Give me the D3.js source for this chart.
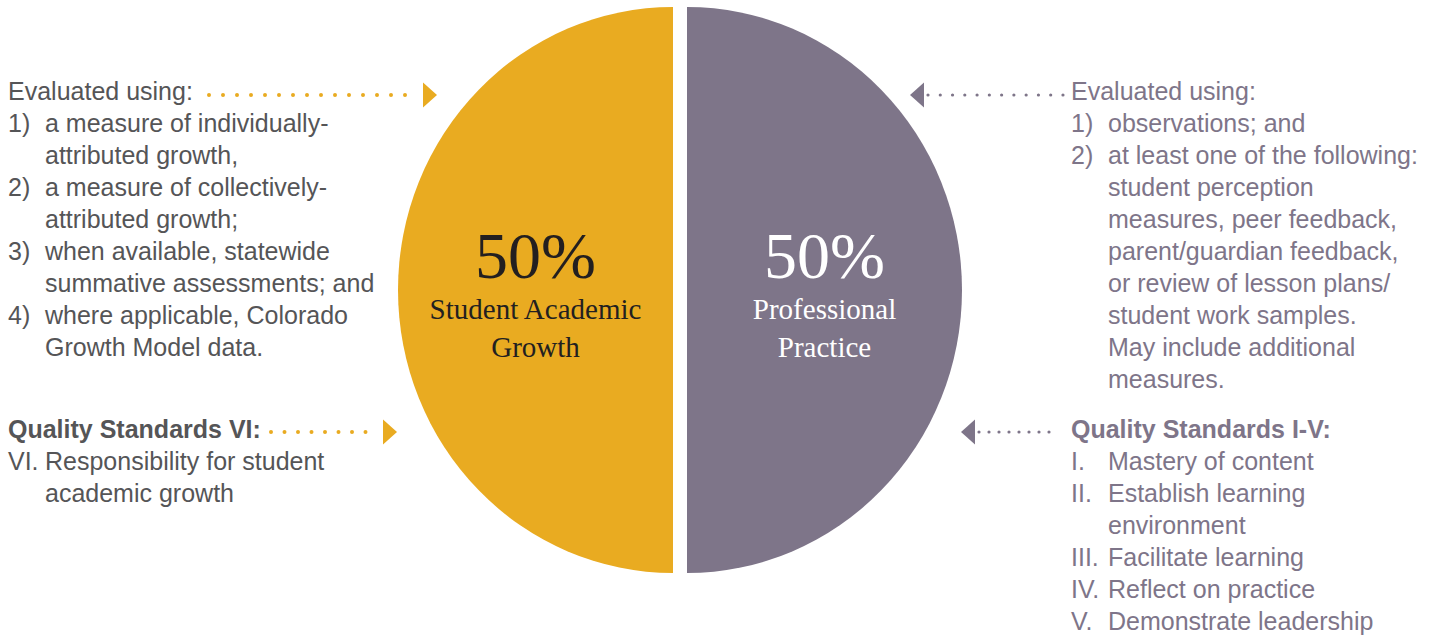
<!DOCTYPE html>
<html>
<head>
<meta charset="utf-8">
<script src="https://cdn.jsdelivr.net/npm/d3@7"></script>
<style>
  html, body { margin: 0; padding: 0; background: #fff; }
  svg { display: block; }
</style>
</head>
<body>
<div id="chart"></div>
<script>
// data
const categories = ["Student Academic Growth", "Professional Practice"];
const shares = [50, 50];
const labelLines = [["Student Academic", "Growth"], ["Professional", "Practice"]];
const sliceColors = ["#E9AB21", "#7E7589"];
const labelColors = ["#231F20", "#FFFFFF"];

const leftEvalHeader = "Evaluated using:";
const leftEvalItems = [
  ["1)", "a measure of individually-"],
  ["", "attributed growth,"],
  ["2)", "a measure of collectively-"],
  ["", "attributed growth;"],
  ["3)", "when available, statewide"],
  ["", "summative assessments; and"],
  ["4)", "where applicable, Colorado"],
  ["", "Growth Model data."],
];
const leftStdHeader = "Quality Standards VI:";
const leftStdItems = [
  ["VI.", "Responsibility for student"],
  ["", "academic growth"],
];

const rightEvalHeader = "Evaluated using:";
const rightEvalItems = [
  ["1)", "observations; and"],
  ["2)", "at least one of the following:"],
  ["", "student perception"],
  ["", "measures, peer feedback,"],
  ["", "parent/guardian feedback,"],
  ["", "or review of lesson plans/"],
  ["", "student work samples."],
  ["", "May include additional"],
  ["", "measures."],
];
const rightStdHeader = "Quality Standards I-V:";
const rightStdItems = [
  ["I.", "Mastery of content"],
  ["II.", "Establish learning"],
  ["", "environment"],
  ["III.", "Facilitate learning"],
  ["IV.", "Reflect on practice"],
  ["V.", "Demonstrate leadership"],
];

const W = 1435, H = 635;
const cx = 680, cy = 290;
const r = 275, ry = 283; // slightly taller than wide in the original
const explode = 7;

const sansFont = "'Liberation Sans', Arial, Helvetica, sans-serif";
const serifFont = "'Liberation Serif', 'Times New Roman', serif";
const leftText = "#555557";
const rightText = "#7E7589";

const svg = d3.select("#chart").append("svg")
  .attr("width", W).attr("height", H)
  .attr("viewBox", `0 0 ${W} ${H}`);

// pie: left half first, then right half
const pie = d3.pie().sort(null).startAngle(Math.PI).endAngle(3 * Math.PI);
const arc = d3.arc().innerRadius(0).outerRadius(r);
const arcs = pie(shares);

const pieG = svg.append("g").attr("transform", `translate(${cx},${cy})`);

pieG.selectAll("path.slice")
  .data(arcs)
  .join("path")
  .attr("class", "slice")
  .attr("fill", (d, i) => sliceColors[i])
  .attr("transform", (d) => {
    const mid = (d.startAngle + d.endAngle) / 2;
    const dx = Math.sin(mid) * explode, dy = -Math.cos(mid) * explode;
    return `translate(${dx},${dy}) scale(1,${ry / r})`;
  })
  .attr("d", arc);

// center labels
const labels = pieG.selectAll("g.lab")
  .data(arcs)
  .join("g")
  .attr("class", "lab")
  .attr("transform", (d) => {
    const mid = (d.startAngle + d.endAngle) / 2;
    const [x] = arc.centroid(d);
    return `translate(${x + Math.sin(mid) * explode},0)`;
  });

labels.append("text")
  .attr("y", -12)
  .attr("text-anchor", "middle")
  .style("font-family", serifFont)
  .style("font-size", "66px")
  .attr("fill", (d, i) => labelColors[i])
  .text((d) => `${d.data}%`);

labels.each(function (d, i) {
  const g = d3.select(this);
  labelLines[i].forEach((ln, j) => {
    g.append("text")
      .attr("y", 29 + j * 38)
      .attr("text-anchor", "middle")
      .style("font-family", serifFont)
      .style("font-size", "29px")
      .attr("fill", labelColors[i])
      .text(ln);
  });
});

// text blocks
const lineH = 32;
function drawBlock(x0, indent, y0, header, items, color, bold) {
  const g = svg.append("g")
    .style("font-family", sansFont)
    .style("font-size", "25px")
    .attr("fill", color);
  g.append("text")
    .attr("x", x0).attr("y", y0)
    .style("font-weight", bold ? "700" : "400")
    .text(header);
  items.forEach(([num, txt], i) => {
    const y = y0 + (i + 1) * lineH;
    if (num) g.append("text").attr("x", x0).attr("y", y).text(num);
    g.append("text").attr("x", x0 + indent).attr("y", y).text(txt);
  });
}

drawBlock(8, 37, 100, leftEvalHeader, leftEvalItems, leftText, false);
drawBlock(8, 37, 438, leftStdHeader, leftStdItems, leftText, true);
drawBlock(1071, 37, 100, rightEvalHeader, rightEvalItems, rightText, false);
drawBlock(1071, 37, 438, rightStdHeader, rightStdItems, rightText, true);

// dotted arrows
function dottedArrow(x1, x2, y, gap, color, dir, w) {
  const g = svg.append("g");
  g.append("line")
    .attr("x1", x1).attr("x2", x2)
    .attr("y1", y).attr("y2", y)
    .attr("stroke", color)
    .attr("stroke-width", w)
    .attr("stroke-linecap", "round")
    .attr("stroke-dasharray", `0 ${gap}`);
  const tri = dir > 0
    ? `M${x2 + 4},${y - 12.5} L${x2 + 18},${y} L${x2 + 4},${y + 12.5} Z`
    : `M${x1 - 4},${y - 12.5} L${x1 - 18},${y} L${x1 - 4},${y + 12.5} Z`;
  g.append("path").attr("d", tri).attr("fill", color);
}

dottedArrow(209, 419, 95, 14, sliceColors[0], 1, 4);
dottedArrow(271, 379, 432, 13.5, sliceColors[0], 1, 4);
dottedArrow(928, 1063, 95, 12.27, sliceColors[1], -1, 3.2);
dottedArrow(979, 1059, 432, 10, sliceColors[1], -1, 3.2);
</script>
</body>
</html>
